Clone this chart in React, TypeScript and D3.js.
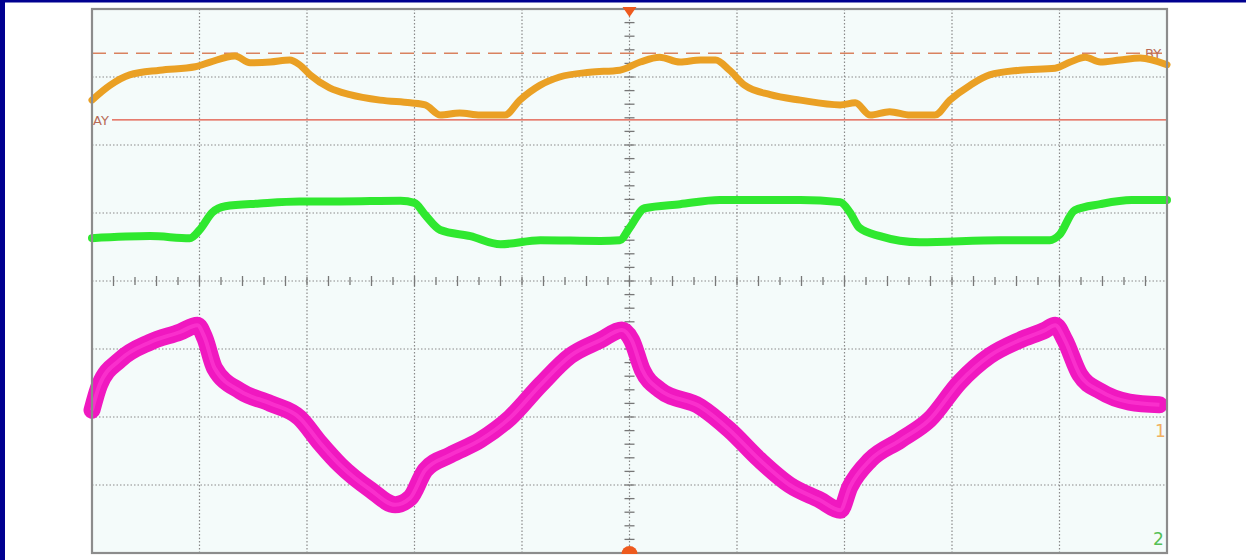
import React from "react";
import * as d3 from "d3";

// time in divisions (0..10), value in divisions (-4..4)
const orangeT = [0, 0.17, 0.35, 0.63, 0.96, 1.1, 1.33, 1.47, 1.66, 1.84, 1.93, 2.03, 2.21, 2.4, 2.68, 2.96, 3.1, 3.24, 3.42, 3.61, 3.84, 3.98, 4.17, 4.35, 4.63, 4.91, 5.1, 5.28, 5.47, 5.66, 5.8, 5.93, 6.07, 6.31, 6.59, 6.96, 7.1, 7.24, 7.42, 7.61, 7.84, 7.98, 8.17, 8.35, 8.63, 8.96, 9.1, 9.24, 9.38, 9.56, 9.75, 10];
const orangeV = [2.66, 2.88, 3.03, 3.1, 3.15, 3.22, 3.31, 3.21, 3.22, 3.25, 3.18, 3.03, 2.84, 2.74, 2.66, 2.62, 2.59, 2.44, 2.47, 2.44, 2.44, 2.66, 2.88, 3.0, 3.07, 3.1, 3.22, 3.29, 3.22, 3.25, 3.25, 3.1, 2.88, 2.74, 2.66, 2.59, 2.62, 2.44, 2.49, 2.44, 2.44, 2.66, 2.88, 3.03, 3.1, 3.13, 3.22, 3.29, 3.22, 3.25, 3.28, 3.18];

const greenT = [0, 0.54, 0.91, 1.0, 1.12, 1.24, 1.56, 1.93, 2.31, 2.87, 3.0, 3.1, 3.24, 3.52, 3.8, 4.17, 4.73, 4.91, 5.0, 5.14, 5.47, 5.84, 6.59, 6.96, 7.05, 7.14, 7.33, 7.7, 8.45, 8.91, 9.0, 9.14, 9.38, 9.67, 10];
const greenV = [0.63, 0.66, 0.63, 0.75, 1.01, 1.1, 1.14, 1.17, 1.17, 1.18, 1.15, 0.97, 0.75, 0.66, 0.54, 0.6, 0.59, 0.6, 0.78, 1.07, 1.13, 1.19, 1.19, 1.16, 1.01, 0.78, 0.66, 0.57, 0.6, 0.6, 0.68, 1.04, 1.13, 1.19, 1.19];

const magT = [0, 0.07, 0.26, 0.54, 0.82, 0.98, 1.05, 1.14, 1.38, 1.66, 1.93, 2.12, 2.31, 2.59, 2.82, 2.96, 3.1, 3.33, 3.61, 3.89, 4.17, 4.45, 4.73, 4.93, 5.02, 5.12, 5.28, 5.66, 5.93, 6.21, 6.49, 6.77, 6.96, 7.05, 7.24, 7.52, 7.79, 8.07, 8.35, 8.63, 8.87, 8.96, 9.05, 9.19, 9.38, 9.65, 9.93];
const magV = [-1.9, -1.53, -1.16, -0.9, -0.75, -0.65, -0.84, -1.28, -1.62, -1.8, -2.01, -2.38, -2.71, -3.07, -3.29, -3.19, -2.78, -2.56, -2.34, -2.01, -1.53, -1.1, -0.87, -0.72, -0.87, -1.31, -1.6, -1.85, -2.19, -2.63, -3.0, -3.22, -3.37, -3.03, -2.63, -2.34, -2.04, -1.49, -1.1, -0.87, -0.72, -0.65, -0.87, -1.38, -1.62, -1.78, -1.82];

const cursorAY = 2.37;
const cursorBY = 3.35;
const xDivs = d3.range(0, 11);
const yDivs = d3.range(-4, 5);

export default function App() {
  const W = 1246, H = 560;
  const x = d3.scaleLinear().domain([0, 10]).range([92, 1167]);
  const y = d3.scaleLinear().domain([-4, 4]).range([553, 9]);
  const line = d3.line<[number, number]>().x(d => x(d[0])).y(d => y(d[1])).curve(d3.curveMonotoneX);
  const pts = (t: number[], v: number[]) => t.map((tt, i) => [tt, v[i]] as [number, number]);
  const minorX = d3.range(0, 50.001, 1).map(i => i / 5);
  const minorY = d3.range(-20, 20.001, 1).map(i => i / 5);
  const cx = x(5), cy = y(0);
  const gridC = "#8a8a8a";
  return (
    <svg width={W} height={H} style={{ position: "fixed", left: 0, top: 0, background: "#fff" }}>
      <rect x={0} y={0} width={W} height={H} fill="#ffffff" />
      <rect x={0} y={0} width={5} height={H} fill="#000090" />
      <rect x={0} y={0} width={W} height={2.5} fill="#000090" />
      <rect x={x(0)} y={y(4)} width={x(10) - x(0)} height={y(-4) - y(4)} fill="#f4fbfa" />
      {xDivs.slice(1, -1).map(d => (
        <line key={"gx" + d} x1={x(d)} x2={x(d)} y1={y(4)} y2={y(-4)} stroke={gridC} strokeWidth={1.2} strokeDasharray="1.5,2" />
      ))}
      {yDivs.slice(1, -1).map(d => (
        <line key={"gy" + d} x1={x(0)} x2={x(10)} y1={y(d)} y2={y(d)} stroke={gridC} strokeWidth={1.2} strokeDasharray="1.5,2" />
      ))}
      {minorX.map((d, i) => (
        <line key={"tx" + i} x1={x(d)} x2={x(d)} y1={cy - (i % 2 === 0 ? 4 : 5)} y2={cy + (i % 2 === 0 ? 4 : 5)} stroke="#777" strokeWidth={1.3} />
      ))}
      {minorY.map((d, i) => (
        <line key={"ty" + i} x1={cx - 5} x2={cx + 5} y1={y(d)} y2={y(d)} stroke="#777" strokeWidth={1.3} />
      ))}
      <line x1={x(0)} x2={x(10)} y1={y(cursorBY)} y2={y(cursorBY)} stroke="#d9825f" strokeWidth={1.6} strokeDasharray="14,8" />
      <line x1={x(0) + 20} x2={x(10)} y1={y(cursorAY)} y2={y(cursorAY)} stroke="#e2523f" strokeWidth={1.4} />
      <text x={x(0) + 1} y={y(cursorAY) + 5} fontFamily="DejaVu Sans, sans-serif" fontSize={13} fill="#b86a55">AY</text>
      <text x={x(10) - 22} y={y(cursorBY) + 5} fontFamily="DejaVu Sans, sans-serif" fontSize={13} fill="#b86a55">BY</text>
      <path d={line(pts(orangeT, orangeV)) || ""} fill="none" stroke="#eaa024" strokeWidth={7} strokeLinejoin="round" strokeLinecap="round" />
      <path d={line(pts(greenT, greenV)) || ""} fill="none" stroke="#2fe82f" strokeWidth={8} strokeLinejoin="round" strokeLinecap="round" />
      <path d={line(pts(magT, magV)) || ""} fill="none" stroke="#f018c0" strokeWidth={17} strokeLinejoin="round" strokeLinecap="round" />
      <path d={line(pts(magT, magV)) || ""} fill="none" stroke="#ff40d4" strokeWidth={4} strokeLinejoin="round" opacity={0.6} />
      <rect x={x(0)} y={y(4)} width={x(10) - x(0)} height={y(-4) - y(4)} fill="none" stroke="#8c8c8c" strokeWidth={2.2} />
      <path d={`M${cx - 7},${y(4) - 2} L${cx + 7},${y(4) - 2} L${cx},${y(4) + 8} Z`} fill="#ee5a1e" />
      <path d={`M${cx - 8},${y(-4) + 1} A8,8 0 0 1 ${cx + 8},${y(-4) + 1} Z`} fill="#ee5a1e" />
      <text x={x(10) - 12} y={y(-2.2) + 6} fontFamily="DejaVu Sans, sans-serif" fontSize={17} fill="#f2b060">1</text>
      <text x={x(10) - 14} y={y(-3.8) + 6} fontFamily="DejaVu Sans, sans-serif" fontSize={17} fill="#55c055">2</text>
    </svg>
  );
}
